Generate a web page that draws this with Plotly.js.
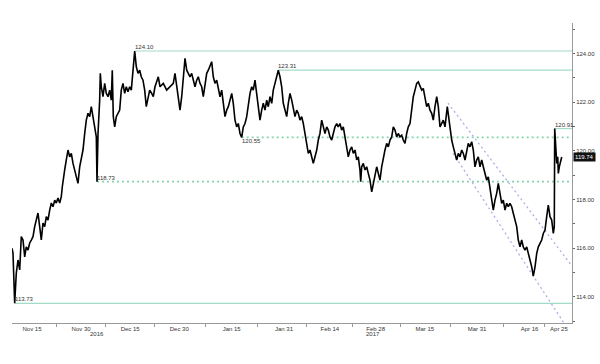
<!DOCTYPE html>
<html><head><meta charset="utf-8">
<script src="https://cdn.plot.ly/plotly-3.0.1.min.js"></script>
<style>html,body{margin:0;padding:0;background:#fff}#chart{width:600px;height:364px}</style>
</head><body><div id="chart"></div>
<script>
// EUR/JPY price path; time as days from 2016-11-15
const daysFromNov15 = [
-6.11,-5.81,-5.29,-4.80,-4.28,-3.76,-3.27,-2.75,-2.23,-1.74,
-1.22,-0.70,-0.21,0.31,0.82,1.83,2.35,2.84,3.36,3.88,
4.37,4.89,5.41,5.90,6.42,6.94,7.42,7.94,8.46,8.95,
9.26,9.56,9.99,10.48,11.00,11.52,12.01,12.53,13.05,13.54,
14.05,14.57,15.06,15.58,16.10,16.59,17.11,17.63,18.12,18.64,
19.16,19.65,19.86,20.17,20.68,20.87,21.17,21.69,22.21,22.70,
23.22,23.74,24.23,24.53,24.84,25.27,25.76,26.28,26.79,27.28,
27.80,28.32,28.81,29.33,29.85,30.34,30.86,31.38,31.87,32.39,
32.91,33.39,33.91,34.43,34.92,35.44,35.96,36.57,37.06,37.58,
38.59,39.11,40.12,41.15,42.16,43.17,43.69,44.21,44.70,45.22,
45.74,46.23,46.75,47.27,47.76,48.27,48.79,49.28,49.80,50.32,
50.81,51.33,51.85,52.34,52.86,53.38,53.87,54.38,54.90,55.39,
55.91,56.43,56.92,57.44,57.96,58.45,58.97,59.49,59.98,60.50,
61.02,61.50,62.02,62.54,63.03,63.55,64.07,64.56,65.08,65.60,
66.09,66.61,67.13,67.61,68.13,68.65,69.14,69.66,70.18,70.67,
71.19,71.71,72.20,72.72,73.24,73.72,74.24,74.76,75.25,75.77,
76.29,76.78,77.30,77.82,78.31,78.83,79.35,79.84,80.35,80.87,
81.36,81.88,82.40,82.89,83.41,83.93,84.42,84.94,85.46,85.95,
86.47,86.99,87.48,87.99,88.51,89.00,89.52,90.04,90.53,91.05,
91.57,92.06,92.58,93.10,93.58,94.10,94.62,95.11,95.63,96.15,
96.64,97.16,97.68,98.17,98.69,99.21,99.69,100.21,100.43,100.73,
101.22,101.74,102.26,102.75,103.27,103.79,104.28,104.80,105.32,105.81,
106.32,106.84,107.33,107.85,108.37,108.86,109.38,109.90,110.39,110.91,
111.43,111.91,112.43,112.95,113.44,113.96,114.48,114.97,115.49,116.01,
116.50,117.02,117.54,118.03,118.55,119.07,119.55,120.07,120.59,121.08,
121.60,122.12,122.61,123.13,123.65,124.14,124.66,125.67,126.19,126.89,
127.72,128.23,128.72,129.24,129.76,130.25,130.77,131.29,131.78,132.30,
132.82,133.30,133.82,134.34,134.83,135.35,135.87,136.36,136.88,137.40,
137.89,138.41,138.93,139.42,139.93,140.45,140.94,141.46,141.98,142.47,
142.99,143.51,144.00,144.52,145.04,145.53,146.04,146.56,147.05,147.57,
148.09,148.58,149.10,149.62,150.11,150.63,151.15,151.64,152.16,152.68,
153.17,153.69,154.21,154.70,155.22,155.73,156.22,156.74,157.26,157.75,
158.27,158.79,159.28,159.58,159.71,160.01,160.32,160.63,160.81,161.11,
161.54,161.85
];
const closePrice = [
115.99,115.80,113.73,114.97,115.51,115.10,116.47,116.33,115.64,116.05,
115.92,116.21,116.33,116.47,116.88,117.44,116.88,116.33,117.03,116.88,
117.29,117.15,117.56,117.85,117.70,117.97,117.85,118.06,117.85,118.11,
118.52,118.93,119.21,119.62,120.03,119.75,119.89,119.48,119.21,118.93,
118.66,119.34,119.75,120.03,120.71,121.26,121.54,121.40,121.81,121.40,
121.12,120.57,118.73,120.71,122.08,123.18,122.63,122.22,122.77,122.36,
122.22,122.49,122.08,123.31,121.40,120.98,121.40,121.54,121.67,122.49,
122.77,122.36,122.63,122.42,122.63,122.49,123.18,124.10,123.45,123.18,
123.31,123.04,122.90,122.49,121.81,122.22,122.49,122.36,122.22,122.63,
123.04,122.63,122.77,122.49,122.63,122.77,123.18,122.63,122.08,121.67,
122.22,123.18,123.80,123.31,123.18,123.04,123.18,122.90,122.63,122.90,
123.04,122.77,122.63,122.22,122.63,123.18,123.31,123.45,123.66,123.04,
122.77,122.90,122.49,122.22,122.49,121.95,121.40,121.67,121.81,122.08,
122.36,121.95,121.26,120.98,121.12,120.71,120.55,120.98,121.12,121.40,
121.95,122.36,122.63,122.49,122.90,122.36,121.95,121.26,121.67,121.95,
121.67,122.08,121.81,122.22,121.95,122.49,122.77,123.04,123.31,123.04,
122.63,121.95,121.67,121.40,121.95,122.36,122.08,121.81,121.40,121.67,
121.54,121.26,121.40,121.12,120.71,120.16,119.89,120.03,119.75,119.48,
119.75,120.03,120.44,120.71,121.26,120.98,120.71,120.98,120.85,120.57,
120.44,120.71,120.98,121.12,120.98,121.12,120.85,120.98,120.57,120.16,
119.75,120.03,120.16,119.89,120.03,119.62,119.75,119.21,118.73,119.34,
119.48,119.21,119.34,119.07,118.79,118.31,118.66,118.93,119.34,119.07,
118.79,119.34,119.75,120.03,120.30,120.16,120.44,120.57,120.98,120.85,
120.57,120.71,120.57,120.64,120.44,120.30,120.71,120.98,121.12,121.81,
122.22,122.49,122.77,122.83,122.63,122.49,122.56,122.08,121.81,121.95,
121.67,121.54,121.26,121.81,122.22,121.81,120.98,121.26,120.98,121.81,
120.85,120.44,120.16,119.89,119.62,119.89,119.75,120.03,119.89,119.62,
120.03,120.30,120.16,120.37,120.03,119.34,119.62,119.75,119.34,119.62,
119.34,119.07,118.79,118.93,118.52,118.11,117.56,117.97,118.25,118.66,
118.25,117.84,117.97,117.56,117.84,117.70,117.84,117.70,117.43,117.15,
116.88,116.33,116.05,116.33,116.05,115.92,116.05,115.78,115.51,115.23,
114.85,115.23,115.78,116.05,116.19,116.33,116.60,116.74,117.29,117.77,
117.29,117.15,116.60,116.88,120.91,120.16,119.48,119.75,119.07,119.34,
119.62,119.74
];

// Horizontal support / resistance levels
const levelValues    = [124.10, 123.31, 120.55, 118.73, 113.73, 120.91];
const levelLabels    = ['124.10','123.31','120.55','118.73','113.73','120.91'];
const levelStartDays = [31.38, 75.25, 64.07, 19.86, -5.29, 159.71];
const levelDashed    = [false, false, true, true, false, false];
const levelLabelBelow= [false, false, true, false, false, false];

// Descending channel
const channelUpperDays = [127.10, 164.99], channelUpperVals = [121.96, 115.26];
const channelLowerDays = [128.63, 162.54], channelLowerVals = [119.90, 112.92];

const tickDates  = ['2016-11-15','2016-11-30','2016-12-15','2016-12-30','2017-01-15','2017-01-31','2017-02-14','2017-02-28','2017-03-15','2017-03-31','2017-04-16','2017-04-25'];
const tickLabels = ['Nov 15','Nov 30','Dec 15','Dec 30','Jan 15','Jan 31','Feb 14','Feb 28','Mar 15','Mar 31','Apr 16','Apr 25'];
const yearLabels = ['2016','2017'];
const yearLabelDays = [19.86, 104.2];
const yTicks = [114,116,118,120,122,124];
const yMinorTicks = [113,115,117,119,121,123,125];
const lastPrice = 119.74;

const BASE = Date.UTC(2016,10,15);
function toDate(d){ return new Date(BASE + d*86400000).toISOString().slice(0,19).replace('T',' '); }
const xStart = -6.11, xEnd = 164.99, dashEnd = 164.3;

const traces = [];
const annotations = [];
const solidCol = '#a3dcc6', dashCol = '#86d4ae';
levelValues.forEach((v,i)=>{
  const endD = levelDashed[i] ? dashEnd : xEnd;
  traces.push({x:[toDate(levelStartDays[i]), toDate(endD)], y:[v,v], mode:'lines', type:'scatter',
    line:{color: levelDashed[i]?dashCol:solidCol, width: levelDashed[i]?1.6:1.2, dash: levelDashed[i]?'2px,3px':'solid'},
    hoverinfo:'skip', showlegend:false});
  annotations.push({x:toDate(levelStartDays[i]), y:v, xref:'x', yref:'y', text:levelLabels[i], showarrow:false,
    xanchor:'left', yanchor: levelLabelBelow[i]?'top':'bottom', borderpad:0, xshift:-1,
    font:{family:'Liberation Sans, Arial, sans-serif', size:6, color:'#333'}});
});
[[channelUpperDays,channelUpperVals],[channelLowerDays,channelLowerVals]].forEach(([d,v])=>{
  traces.push({x:d.map(toDate), y:v, mode:'lines', type:'scatter',
    line:{color:'#a9b0e4', width:1.3, dash:'2px,3px'}, hoverinfo:'skip', showlegend:false});
});
traces.push({x:daysFromNov15.map(toDate), y:closePrice, mode:'lines', type:'scatter',
  line:{color:'#000', width:1.6}, hoverinfo:'skip', showlegend:false});

yearLabels.forEach((t,i)=>{
  annotations.push({x:toDate(yearLabelDays[i]), y:-0.035, xref:'x', yref:'paper', text:t, showarrow:false,
    xanchor:'center', yanchor:'middle', font:{family:'Liberation Sans, Arial, sans-serif', size:6, color:'#333'}});
});
annotations.push({x:1, xref:'paper', y:lastPrice, yref:'y', text:lastPrice.toFixed(2), showarrow:false,
  xanchor:'left', yanchor:'middle', xshift:1, bgcolor:'#111', borderpad:1,
  font:{family:'Liberation Sans, Arial, sans-serif', size:6, color:'#fff'}});

const tickMs = tickDates.map(s=>Date.parse(s+'T00:00:00Z'));
const minorVals = [];
for (let i=0;i<tickMs.length-1;i++) minorVals.push(new Date((tickMs[i]+tickMs[i+1])/2).toISOString().slice(0,19).replace('T',' '));

const layout = {
  width:600, height:364,
  margin:{l:12, r:28, t:23, b:41},
  paper_bgcolor:'#fff', plot_bgcolor:'#fff',
  showlegend:false,
  font:{family:'Liberation Sans, Arial, sans-serif', size:6, color:'#333'},
  xaxis:{type:'date', range:[toDate(xStart), toDate(xEnd)], tickmode:'array', tickvals:tickDates, ticktext:tickLabels,
    ticks:'', showgrid:false, zeroline:false, showline:true, linecolor:'#999', linewidth:1,
    tickfont:{size:6, color:'#333'},
    minor:{tickmode:'array', tickvals:minorVals, ticks:'outside', ticklen:3, tickcolor:'#999', showgrid:false}},
  yaxis:{side:'right', range:[112.92,125.25], tickmode:'array', tickvals:yTicks, tickformat:'.2f',
    ticks:'outside', ticklen:2, tickcolor:'#666', showgrid:false, zeroline:false, showline:true, linecolor:'#999', linewidth:1,
    tickfont:{size:6, color:'#333'},
    minor:{tickmode:'array', tickvals:yMinorTicks, ticks:'outside', ticklen:2, tickcolor:'#666', showgrid:false}},
  annotations: annotations
};
Plotly.newPlot('chart', traces, layout, {staticPlot:true, displayModeBar:false});
</script>
</body></html>
